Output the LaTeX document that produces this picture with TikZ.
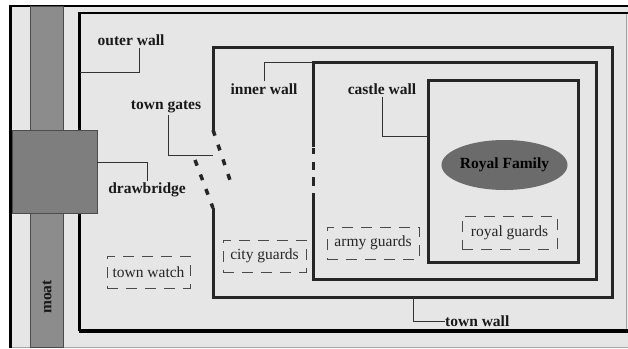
\documentclass[tikz,border=0pt]{standalone}
\usepackage{fontspec}
\setmainfont{Liberation Serif}
\usetikzlibrary{shapes.geometric}
\definecolor{bgc}{HTML}{E6E6E6}
\definecolor{wallc}{HTML}{262626}
\definecolor{moatc}{HTML}{8C8C8C}
\definecolor{bridgec}{HTML}{7E7E7E}
\definecolor{royalc}{HTML}{6B6B6B}
\definecolor{guardc}{HTML}{4A4A4A}
\begin{document}
\begin{tikzpicture}[x=1pt,y=-1pt,
  wall/.style={draw=wallc,line width=3pt},
  leader/.style={draw=black!80,line width=1pt},
  lbl/.style={font=\bfseries\fontsize{15.5}{18}\selectfont,inner sep=2pt,text=black!90},
  guard/.style={draw=guardc,line width=0.9pt,dash pattern=on 11pt off 8pt,font=\fontsize{15.5}{18}\selectfont,text=black!85,inner sep=0pt},
  gatedoor/.style={draw=wallc,line width=3.5pt,dash pattern=on 6pt off 9.5pt}]

\useasboundingbox (0,0) rectangle (628,348);
\fill[white] (0,0) rectangle (628,348);
\fill[bgc] (10,5) rectangle (628,347);
\draw[gray!70,line width=0.8pt] (10,347) -- (628,347);
\draw[black,line width=2.5pt] (10.5,5) -- (10.5,348);
\draw[black,line width=2pt] (10,5.5) -- (628,5.5);

% outer wall
\draw[gray!70,line width=1pt] (626,13) -- (626,331);
\draw[black,line width=2.5pt] (628,13) -- (79.5,13) -- (79.5,331);
\draw[black,line width=4pt] (78.5,331) -- (628,331);

% moat
\filldraw[fill=moatc,draw=black!70,line width=0.8pt] (30,6) rectangle (63,347);
\node[lbl,rotate=90] (moatlbl) at (47,297) {moat};

% drawbridge
\node[draw=black!70,fill=bridgec,line width=0.8pt,minimum width=85pt,minimum height=83pt,inner sep=0pt] (db) at (54.5,171.5) {};

% town wall with gates
\draw[wall] (213,130) -- (213,47) -- (612,47) -- (612,297) -- (213,297) -- (213,208);
\draw[gatedoor] (213,130) -- (231,183);
\draw[gatedoor] (195,160) -- (213,208);

% inner wall with gate
\draw[wall] (313,147) -- (313,62) -- (596,62) -- (596,279) -- (313,279) -- (313,193);
\draw[wall] (313,148) -- (313,154);
\draw[wall] (313,162) -- (313,170);
\draw[wall] (313,177) -- (313,186);

% castle wall
\draw[wall] (428,80) rectangle (578,262);

% royal family
\node[ellipse,fill=royalc,minimum width=117pt,minimum height=50pt,inner sep=0pt,font=\bfseries\fontsize{15.5}{18}\selectfont] (royal) at (504.5,165) {Royal Family};

% guards
\node[guard,minimum width=83pt,minimum height=32pt] (watch) at (148.5,272) {town watch};
\node[guard,minimum width=83pt,minimum height=32pt] (city) at (264.5,256) {city guards};
\node[guard,minimum width=92pt,minimum height=32pt] (army) at (373,243) {army guards};
\node[guard,minimum width=95pt,minimum height=33pt] (royalg) at (509.5,232.5) {royal guards};

% labels and leaders
\coordinate (ow) at (80,72);
\coordinate (gatept) at (213,155);
\coordinate (iw) at (313,62);
\coordinate (cw) at (428,136);
\coordinate (tw) at (413,297);

\node[lbl] (outerlbl) at (131,40) {outer wall};
\draw[leader] ([xshift=8pt]outerlbl.south) |- (ow);

\node[lbl] (gateslbl) at (166,107) {town gates};
\draw[leader] ([xshift=2pt]gateslbl.south) |- (gatept);

\node[lbl] (dblbl) at (147,190) {drawbridge};
\draw[leader] (dblbl.north) |- ([yshift=9.5pt]db.east);

\node[lbl] (innerlbl) at (264,89) {inner wall};
\draw[leader] (innerlbl.north) |- (iw);

\node[lbl] (castlelbl) at (382,89) {castle wall};
\draw[leader] (castlelbl.south) |- (cw);

\node[lbl,anchor=west,inner sep=0pt] (townlbl) at (445,321) {town wall};
\draw[leader] (tw) |- (townlbl.west);
\end{tikzpicture}
\end{document}
